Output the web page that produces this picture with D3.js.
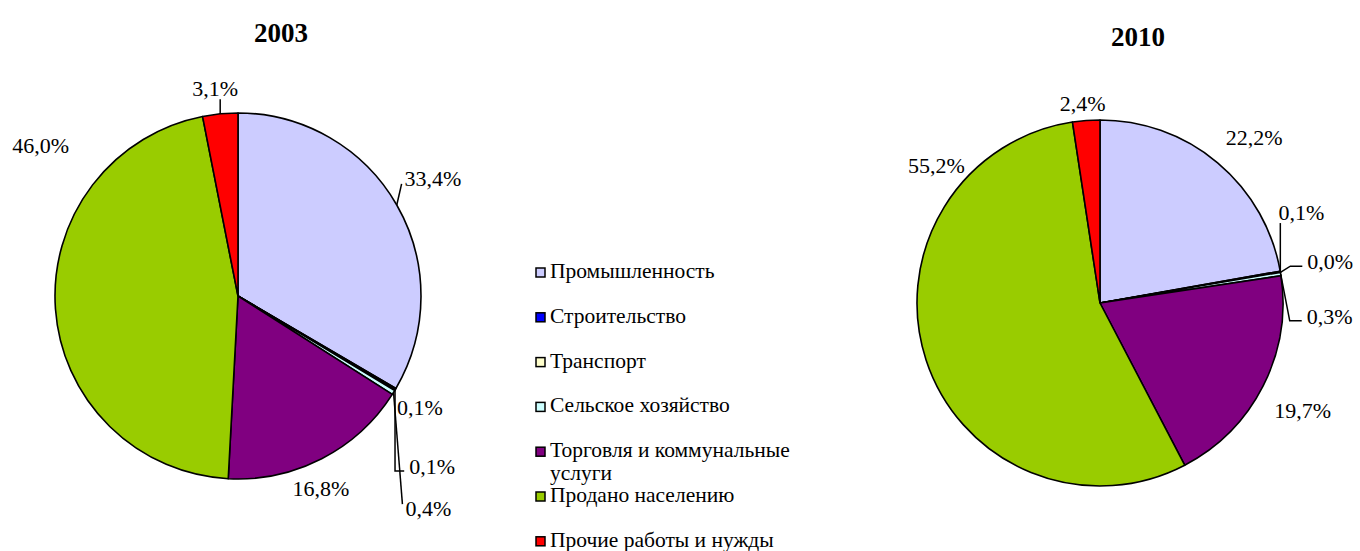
<!DOCTYPE html>
<meta charset="utf-8">
<style>
body { margin: 0; background: #fff; }
svg { display: block; }
</style>
<body>
<svg width="1360" height="551"></svg>
<script src="https://d3js.org/d3.v7.min.js"></script>
<script>
// data
var categories = ["Промышленность", "Строительство", "Транспорт", "Сельское хозяйство",
                  "Торговля и коммунальные услуги", "Продано населению", "Прочие работы и нужды"];
var colors = ["#CCCCFF", "#0000FF", "#FFFFCC", "#CCFFFF", "#800080", "#99CC00", "#FF0000"];
var years = ["2003", "2010"];
var values2003 = [33.4, 0.1, 0.1, 0.4, 16.8, 46.0, 3.1];
var values2010 = [22.2, 0.1, 0.0, 0.3, 19.7, 55.2, 2.4];

// label placement (angle from top in degrees, distance from centre, leader type)
var labels2003 = [[58.8, 228, "line"], [121.4, 213, "none"], [131.2, 258, "elbow"], [138.1, 285, "line"],
                  [156.6, 209, "none"], [307.3, 248, "none"], [353.7, 209, "line"]];
var labels2010 = [[43, 226, "none"], [65.7, 221, "line"], [79.7, 234, "elbow"], [93.2, 230, "elbow"],
                  [117.8, 229, "none"], [310, 213.6, "none"], [355, 200, "none"]];

var serif = "'Liberation Serif', 'Times New Roman', serif";
var svg = d3.select("svg");
var r = 183;

var pies = [
  {year: years[0], values: values2003, labels: labels2003, cx: 238, cy: 296, tx: 281, ty: 42},
  {year: years[1], values: values2010, labels: labels2010, cx: 1100, cy: 303, tx: 1138, ty: 46}
];

var pie = d3.pie().sort(null).value(function(d) { return d; });
var arc = d3.arc().innerRadius(0).outerRadius(r);
var fmt = function(v) { return v.toFixed(1).replace(".", ",") + "%"; };

pies.forEach(function(p) {
  svg.append("text")
    .attr("x", p.tx).attr("y", p.ty)
    .attr("text-anchor", "middle")
    .style("font-family", serif).style("font-size", "27px").style("font-weight", "bold")
    .text(p.year);

  var g = svg.append("g").attr("transform", "translate(" + p.cx + "," + p.cy + ")");
  var arcs = pie(p.values);

  g.selectAll("path").data(arcs).enter().append("path")
    .attr("d", arc)
    .attr("fill", function(d, i) { return colors[i]; })
    .attr("stroke", "#000")
    .attr("stroke-width", 1.6)
    .attr("stroke-linejoin", "round");

  arcs.forEach(function(d, i) {
    var L = p.labels[i];
    var a = L[0] * Math.PI / 180;
    var x = Math.sin(a) * L[1], y = -Math.cos(a) * L[1];
    var t = g.append("text")
      .attr("x", x).attr("y", y).attr("dy", "0.35em")
      .attr("text-anchor", "middle")
      .style("font-family", serif).style("font-size", "22px")
      .text(fmt(p.values[i]));
    if (L[2] === "none") return;
    var w = t.node().getComputedTextLength();
    var m = (d.startAngle + d.endAngle) / 2;
    var ex = Math.sin(m) * r, ey = -Math.cos(m) * r;
    var pts;
    if (L[2] === "elbow") {
      var lx = x - w / 2 - 5, ly = y + 5;
      pts = [[ex, ey], [lx - 12 > ex ? lx - 12 : ex, ly], [lx, ly]];
    } else {
      var side = x - w / 2;
      if (Math.abs(x - ex) < w / 2) pts = [[ex, ey], [ex, y + 11]];
      else pts = [[ex, ey], [side - 3, ey < y ? y - 4 : y + 6]];
    }
    g.append("path")
      .attr("d", d3.line()(pts))
      .attr("fill", "none")
      .attr("stroke", "#000")
      .attr("stroke-width", 1.5);
  });
});

// legend
var legend = svg.append("g");
var ly = 278, gap = 44.8;
categories.forEach(function(c, i) {
  var y = ly + i * gap;
  legend.append("rect")
    .attr("x", 536).attr("y", y - 10).attr("width", 9).attr("height", 9)
    .attr("fill", colors[i]).attr("stroke", "#000").attr("stroke-width", 1.5);
  var t = legend.append("text").attr("x", 550).attr("y", y)
    .style("font-family", serif).style("font-size", "21.5px");
  if (c.indexOf("коммунальные") > 0) {
    t.append("tspan").attr("x", 550).text("Торговля и коммунальные");
    t.append("tspan").attr("x", 550).attr("dy", 23).text("услуги");
  } else {
    t.text(c);
  }
});
</script>
</body>
